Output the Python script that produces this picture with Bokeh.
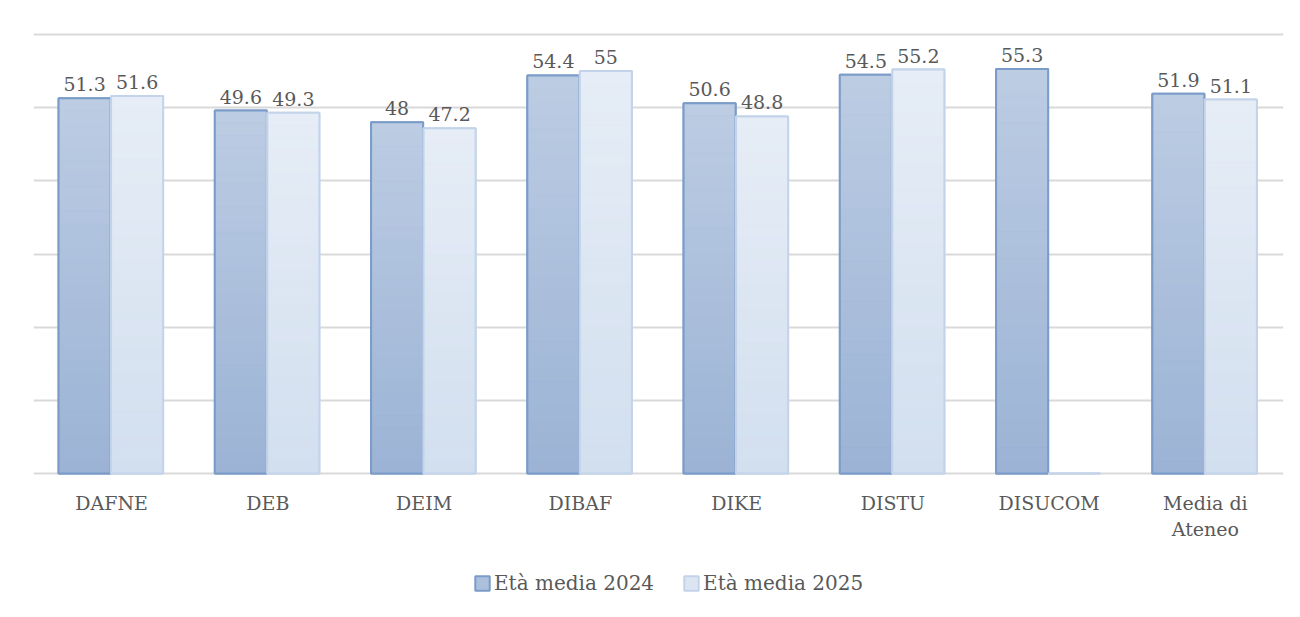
from bokeh.plotting import figure
from bokeh.models import ColumnDataSource, FactorRange, Legend, LegendItem, FixedTicker
from bokeh.transform import dodge
from bokeh.core.properties import value
from bokeh.embed import file_html
from bokeh.resources import INLINE

# ---- data ----
categories = ["DAFNE", "DEB", "DEIM", "DIBAF", "DIKE", "DISTU", "DISUCOM", "Media di\nAteneo"]
eta_2024 = [51.3, 49.6, 48.0, 54.4, 50.6, 54.5, 55.3, 51.9]
eta_2025 = [51.6, 49.3, 47.2, 55.0, 48.8, 55.2, 0.0, 51.1]
labels_2024 = ["51.3", "49.6", "48", "54.4", "50.6", "54.5", "55.3", "51.9"]
labels_2025 = ["51.6", "49.3", "47.2", "55", "48.8", "55.2", "", "51.1"]
series_names = ["Età media 2024", "Età media 2025"]
y_ticks = [0, 10, 20, 30, 40, 50, 60]

FONT = "DejaVu Serif"
TXT = "#595959"
GRID = "#d9d9d9"

# style per series: (top colour, bottom colour, border)
styles = [
    ("#bccce3", "#9bb3d5", "#7b9cc9"),
    ("#e6edf6", "#d2dfef", "#c3d4ea"),
]
offsets = [-0.173, 0.163]
BAR_W = 0.333
NSEG = 30

PX_PER_UNIT = 439 / 60.0
Y_TOP = 60 + 2 / PX_PER_UNIT      # keep the top gridline inside the frame
Y_BOTTOM = -136 / PX_PER_UNIT     # room below the baseline for labels and legend


def hex2rgb(h):
    h = h.lstrip("#")
    return tuple(int(h[i:i + 2], 16) for i in (0, 2, 4))


def mix(c1, c2, t):
    a, b = hex2rgb(c1), hex2rgb(c2)
    return "#%02x%02x%02x" % tuple(round(a[i] + (b[i] - a[i]) * t) for i in range(3))


p = figure(
    x_range=FactorRange(*categories, range_padding=0),
    y_range=(Y_BOTTOM, Y_TOP),
    width=1292, height=609,
    output_backend="svg", toolbar_location=None,
    min_border_left=33, min_border_right=9, min_border_top=32, min_border_bottom=0,
)
p.outline_line_color = None
p.background_fill_color = "white"
p.border_fill_color = "white"

p.xaxis.visible = False
p.yaxis.visible = False
p.ygrid.ticker = FixedTicker(ticks=y_ticks)
p.ygrid.grid_line_color = GRID
p.ygrid.grid_line_width = 2
p.xgrid.grid_line_color = None

# category labels under the baseline
cat_src = ColumnDataSource(dict(cat=categories, y=[0] * len(categories)))
p.text(x="cat", y="y", text="cat", source=cat_src, text_align="center",
       text_baseline="top", y_offset=18, text_font=value(FONT),
       text_font_size="19px", text_color=TXT, text_line_height=1.22)

legend_items = []
for vals, labs, name, (ctop, cbot, cline), off in zip(
        [eta_2024, eta_2025], [labels_2024, labels_2025], series_names, styles, offsets):
    src = ColumnDataSource(dict(cat=categories, val=vals, lab=labs))
    base = p.vbar(x=dodge("cat", off, range=p.x_range), top="val", width=BAR_W,
                  source=src, fill_color=mix(cbot, ctop, 0.5), line_color=cline, line_width=2)
    # gradient strips derived from each bar's value
    xs, bots, tops, cols = [], [], [], []
    for c, v in zip(categories, vals):
        for k in range(NSEG):
            xs.append(c)
            bots.append(v * k / NSEG)
            tops.append(v * (k + 1) / NSEG)
            cols.append(mix(cbot, ctop, (k + 0.5) / NSEG))
    gsrc = ColumnDataSource(dict(cat=xs, bottom=bots, top=tops, color=cols))
    p.vbar(x=dodge("cat", off, range=p.x_range), bottom="bottom", top="top", width=BAR_W,
           source=gsrc, fill_color="color", line_color="color", line_width=0.5)
    p.vbar(x=dodge("cat", off, range=p.x_range), top="val", width=BAR_W,
           source=src, fill_color=None, line_color=cline, line_width=2)
    p.text(x=dodge("cat", off, range=p.x_range), y="val", text="lab", source=src,
           text_align="center", text_baseline="middle", y_offset=-14,
           text_font=value(FONT), text_font_size="19px", text_color=TXT)
    legend_items.append(LegendItem(label=name, renderers=[base]))

legend = Legend(items=legend_items, orientation="horizontal", location=(440, 14),
                label_text_font=FONT, label_text_font_size="20px", label_text_color=TXT,
                glyph_width=18, glyph_height=18, spacing=28, label_standoff=3,
                padding=10, margin=0,
                border_line_color=None, background_fill_alpha=0)
p.add_layout(legend)

open("out.html", "w").write(file_html(p, INLINE))
